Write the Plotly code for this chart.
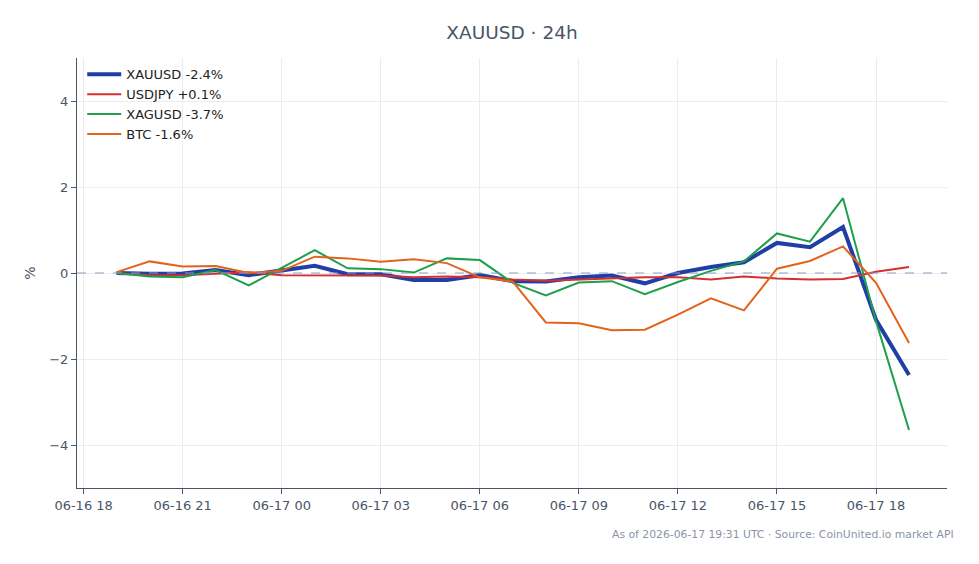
import plotly.graph_objects as go
import pandas as pd

times = pd.date_range("2026-06-16 19:00", "2026-06-17 19:00", freq="h")

xauusd = [0.00, -0.02, -0.01, 0.07, -0.05, 0.07, 0.17, -0.03, -0.03, -0.16, -0.16, -0.05, -0.19,
          -0.20, -0.10, -0.06, -0.24, 0.00, 0.14, 0.25, 0.70, 0.60, 1.07, -1.09, -2.37]
usdjpy = [0.00, -0.05, -0.05, -0.02, 0.02, -0.05, -0.05, -0.06, -0.06, -0.10, -0.08, -0.10, -0.15,
          -0.18, -0.15, -0.12, -0.10, -0.10, -0.15, -0.08, -0.13, -0.15, -0.14, 0.03, 0.14]
xagusd = [0.00, -0.08, -0.10, 0.07, -0.29, 0.13, 0.53, 0.11, 0.09, 0.01, 0.34, 0.30, -0.23,
          -0.52, -0.22, -0.19, -0.49, -0.21, 0.05, 0.27, 0.92, 0.73, 1.74, -1.12, -3.65]
btc = [0.02, 0.27, 0.15, 0.16, 0.00, 0.05, 0.38, 0.34, 0.26, 0.32, 0.23, -0.10, -0.20,
       -1.15, -1.17, -1.33, -1.32, -0.97, -0.59, -0.87, 0.10, 0.28, 0.62, -0.23, -1.63]

series = [
    ("XAUUSD -2.4%", xauusd, "#1f3fa6", 4),
    ("USDJPY +0.1%", usdjpy, "#d62f2f", 2),
    ("XAGUSD -3.7%", xagusd, "#1f9e4b", 2),
    ("BTC -1.6%", btc, "#e2631c", 2),
]

tick_vals = pd.date_range("2026-06-16 18:00", "2026-06-17 18:00", freq="3h")
tick_text = [t.strftime("%m-%d %H") for t in tick_vals]

FONT = "DejaVu Sans"
TXT = "#4a5568"

fig = go.Figure()
for name, vals, color, w in series:
    fig.add_trace(go.Scatter(x=times, y=vals, mode="lines", name=name,
                             line=dict(color=color, width=w)))

fig.add_hline(y=0, line=dict(color="#8a9cc6", width=1, dash="dash"))

fig.update_layout(
    width=979, height=564,
    margin=dict(l=77, r=32, t=58, b=76),
    paper_bgcolor="white", plot_bgcolor="white",
    font=dict(family=FONT, size=13, color=TXT),
    title=dict(text="XAUUSD · 24h", xref="paper", x=0.5, xanchor="center",
               y=0.943, yanchor="middle",
               font=dict(family=FONT, size=18.5, color=TXT)),
    legend=dict(x=0.006, y=0.997, xanchor="left", yanchor="top", itemwidth=34,
                bgcolor="rgba(255,255,255,0)", font=dict(size=13, color="#222222")),
    showlegend=True,
)
fig.update_xaxes(
    range=[pd.Timestamp("2026-06-16 17:48"), pd.Timestamp("2026-06-17 20:09")],
    tickvals=tick_vals, ticktext=tick_text,
    showgrid=True, gridcolor="#ececec", gridwidth=1,
    showline=True, linecolor=TXT, linewidth=1.2,
    ticks="outside", ticklen=5, tickcolor=TXT, zeroline=False,
    tickfont=dict(size=13, color=TXT),
)
fig.update_yaxes(
    range=[-5, 5], tickvals=[-4, -2, 0, 2, 4],
    showgrid=True, gridcolor="#ececec", gridwidth=1,
    showline=True, linecolor=TXT, linewidth=1.2,
    ticks="outside", ticklen=5, tickcolor=TXT, zeroline=False,
    title=dict(text="%", font=dict(size=14, color=TXT), standoff=10),
    tickfont=dict(size=13, color=TXT),
)
fig.add_annotation(
    text="As of 2026-06-17 19:31 UTC · Source: CoinUnited.io market API",
    xref="paper", yref="paper", x=1.01, y=-0.107, xanchor="right", yanchor="middle",
    showarrow=False, font=dict(family=FONT, size=10.8, color="#8a94a6"),
)

fig.write_html("out.html")
